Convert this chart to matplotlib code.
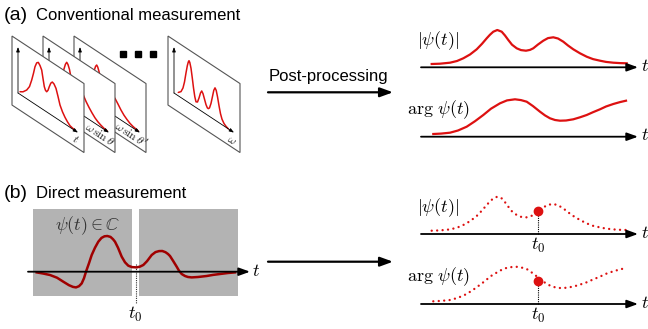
import numpy as np
import matplotlib
matplotlib.use("Agg")
import matplotlib.pyplot as plt
import matplotlib.transforms as mtransforms
from matplotlib.patches import Polygon, Rectangle

plt.rcParams['mathtext.fontset'] = 'cm'
plt.rcParams['font.family'] = ['Liberation Sans', 'DejaVu Sans']

RED = '#dd1111'
DARKRED = '#a00000'

# ---- data ----
# right-hand curves: x position (px) and height above the t axis (px)
psi_x = [431.7, 440, 450, 457, 463.3, 470, 476.7, 482, 486.7, 490, 493.3, 497.3, 501.7, 505,
         508.3, 512, 516.7, 521, 526, 530, 533.3, 538, 543.3, 548, 553.3, 558, 563.3, 568,
         573.3, 580, 586.7, 593, 600, 606, 613.3, 620, 626.7]
psi_abs = [3.3, 3.6, 4.6, 6.3, 9, 12.8, 18, 23.5, 29, 32.6, 35.6, 37.3, 35.6, 31.8,
           27.3, 22.6, 19, 17.2, 16.6, 17.4, 19, 22.8, 26.6, 29.2, 30, 28.8, 25.6, 21.8,
           18, 14, 10.6, 8.2, 6.6, 5.4, 4.6, 4.2, 4]
arg_x = [433.3, 441, 450, 458, 466.7, 475, 483.3, 491, 500, 507, 515, 521, 526.7, 533, 540,
         545, 550, 555, 560, 566, 573.3, 580, 586.7, 593, 600, 606, 613.3, 620, 626]
psi_arg = [2.7, 3.1, 4, 6.2, 10, 15.5, 21.7, 28, 33.4, 36.3, 37.4, 36.6, 35, 30.6, 25,
           21.3, 18.4, 16.7, 16, 16.2, 17.4, 19.4, 21.7, 24.5, 27.4, 30.2, 32.7, 34.6, 36]

# direct measurement: Re psi(t) along the left axis
re_x = [36.7, 43, 50, 57, 63.3, 69, 73, 76, 79, 81.7, 84, 86, 89, 91.7, 95, 98.3, 101.5,
        104.5, 107.3, 110.5, 113, 115, 118, 121.7, 125, 128.3, 132, 136.7, 140, 143.3, 147,
        151.7, 155.5, 159, 162.3, 165.5, 168, 170, 173, 176.7, 179, 181.7, 185, 188, 191.7,
        198, 206.7, 213, 220, 228, 235]
re_psi = [-0.7, -1.8, -3.3, -6, -10, -13.5, -15.2, -15.7, -14.5, -11.7, -6.5, 0, 8.5, 16.7,
          24, 30, 33.8, 35.4, 35.7, 34.8, 32.5, 30, 24, 15, 9.4, 6, 4.6, 4.3, 5.1, 6.7, 10.5,
          16.7, 19.6, 20.6, 20.7, 19.5, 17.7, 15.7, 11, 5, 1, -2.3, -4.3, -5.3, -5.7,
          -5.3, -4.3, -3.2, -2.3, -1.3, -0.7]

t0_x = 538.3
t0_abs = 23
t0_arg = 23.3

# conventional measurement frames: curve along axis (u) and height (v)
f1_u = [2, 5, 8.7, 11.5, 13.7, 15.5, 17, 18.7, 20.3, 22, 23.7, 25, 26.3, 27.5, 28.7, 30,
        31.3, 32.8, 34.3, 36, 38, 40, 42, 44.5, 47, 49.5, 52, 54.5, 57]
f1_v = [2.6, 4.5, 8.7, 14, 22, 30, 37.5, 42.5, 44, 42, 38.6, 31, 23.7, 20.8, 20.2, 22.5,
        27, 31.5, 33.6, 32.8, 29.7, 23, 15.7, 10.5, 6.7, 3.8, 1.6, 0.9, 0.6]
f2_u = [2, 5, 8, 10, 12, 13.5, 15, 16.4, 17.7, 19, 20.5, 22, 23.5, 25, 26.5, 28, 30, 32,
        34.3, 37, 40, 43, 46, 49, 52, 55, 58]
f2_v = [2.5, 4.5, 8, 13, 20, 27, 34, 39.5, 42.4, 41, 37, 30, 24, 21.5, 21, 22.5, 24, 23,
        20.6, 16, 12, 8.5, 5.5, 3.4, 2, 1, 0.5]
f3_u = [2, 5, 8, 10, 12, 13.3, 14.5, 15.6, 16.7, 17.8, 19, 20.5, 22, 23.7, 25.5, 27.5,
        29.5, 32, 35, 38, 41, 44, 47, 50, 53, 58]
f3_v = [2.5, 4.5, 8, 13, 21, 27, 33, 37, 39, 37.5, 34, 28.5, 23, 20.5, 19.5, 20, 20.5,
        19.5, 17.7, 14, 10, 6.8, 4.5, 2.6, 1.5, 0.5]
f4_u = [4.3, 7, 9, 10.5, 12, 13.3, 14.3, 15, 15.8, 17, 18.3, 19.5, 20.8, 22, 23.5, 25,
        26.5, 27.7, 29, 30.5, 32, 33.3, 34.3, 35.5, 37, 38.5, 39.8, 41, 42.2, 43.5, 45,
        46.5, 48, 50, 52, 54.3]
f4_v = [3.4, 6, 11, 18, 28, 36, 40.5, 42.2, 41, 36, 27, 18, 10, 5.7, 6.5, 11.5, 17.5,
        20.3, 18.5, 14, 9.5, 7.2, 7, 8.5, 14, 22, 29, 32.2, 30.5, 25, 17, 10, 5.5, 2.5,
        1, 0]

frame_labels = [r'$t$', r'$\omega\,\sin\theta$', r"$\omega\,\sin\theta'$", r'$\omega$']

# ---- figure ----
fig = plt.figure(figsize=(6.48, 3.29), dpi=100)
ax = fig.add_axes([0, 0, 1, 1])
ax.set_xlim(0, 648)
ax.set_ylim(329, 0)
ax.axis('off')

SL = 0.66


def arrow(x0, y0, x1, y1, lw=1.4, ms=12, tr=None, z=5):
    tr = tr if tr is not None else ax.transData
    ax.annotate('', xy=(x1, y1), xytext=(x0, y0), xycoords=tr, textcoords=tr,
                arrowprops=dict(arrowstyle='-|>,head_length=0.55,head_width=0.2',
                                lw=lw, color='black', mutation_scale=ms,
                                shrinkA=0, shrinkB=0),
                zorder=z)


def frame(ox, oy, u, v, label, z, lab_u):
    tr = mtransforms.Affine2D(np.array([[1, 0, ox], [SL, -1, oy], [0, 0, 1]])) + ax.transData
    ax.add_patch(Polygon([(-6, -16), (66, -16), (66, 53), (-6, 53)], closed=True,
                         transform=tr, fc='white', ec='#555555', lw=0.8, zorder=z))
    arrow(0, 0, 0, 46, lw=0.6, ms=5, tr=tr, z=z + 0.2)
    arrow(0, 0, 60, 0, lw=0.6, ms=5, tr=tr, z=z + 0.2)
    ax.plot(u, v, color=RED, lw=1.1, transform=tr, zorder=z + 0.1,
            solid_capstyle='round', solid_joinstyle='round')
    ang = -np.degrees(np.arctan(SL))
    x, y = tr.transform((lab_u, -9))
    xd, yd = ax.transData.inverted().transform((x, y))
    ax.text(xd, yd, label, fontsize=8.5, rotation=ang, rotation_mode='anchor',
            ha='center', va='center', zorder=z + 0.3, color='#222222')


frame(80, 93, f3_u, f3_v, frame_labels[2], 1, 50)
frame(49, 93, f2_u, f2_v, frame_labels[1], 2, 50)
frame(18, 93, f1_u, f1_v, frame_labels[0], 3, 57)
frame(174, 93, f4_u, f4_v, frame_labels[3], 4, 58)

ax.plot([123.3, 138.3, 153.3], [54.3, 54.3, 54.3], 's', color='black', ms=3.8, zorder=5)

# titles
ax.text(4, 19.5, '(a)', fontsize=14, va='baseline')
ax.text(36, 19.5, 'Conventional measurement', fontsize=12, va='baseline')
ax.text(4, 198.3, '(b)', fontsize=14, va='baseline')
ax.text(36, 198.3, 'Direct measurement', fontsize=12, va='baseline')

# post-processing arrow
ax.text(328.5, 81, 'Post-processing', fontsize=12, ha='center', va='baseline')
arrow(268, 92.3, 393, 92.3, lw=1.6, ms=14)
arrow(268, 261.7, 393, 261.7, lw=1.6, ms=14)

# right panels
base_abs_a, base_arg_a = 67.3, 136.7
base_abs_b, base_arg_b = 234, 304
for b in [base_abs_a, base_arg_a, base_abs_b, base_arg_b]:
    arrow(421, b, 638, b, lw=1.3, ms=12)
    ax.text(641, b - 1, r'$t$', fontsize=13, ha='left', va='center')

ax.plot(psi_x, base_abs_a - np.array(psi_abs), color=RED, lw=1.6, solid_joinstyle='round')
ax.plot(arg_x, base_arg_a - np.array(psi_arg), color=RED, lw=1.6, solid_joinstyle='round')
ax.text(438, 41, r'$|\psi(t)|$', fontsize=13, ha='center', va='center')
ax.text(438, 110, r'$\arg\,\psi(t)$', fontsize=13, ha='center', va='center')

dots = (0, (0.01, 2.3))
ax.plot(psi_x, base_abs_b - np.array(psi_abs), color=RED, lw=1.7, ls=dots,
        dash_capstyle='round')
ax.plot(arg_x, base_arg_b - np.array(psi_arg), color=RED, lw=1.7, ls=dots,
        dash_capstyle='round')
ax.text(438, 208, r'$|\psi(t)|$', fontsize=13, ha='center', va='center')
ax.text(438, 277, r'$\arg\,\psi(t)$', fontsize=13, ha='center', va='center')
for b, h in [(base_abs_b, t0_abs), (base_arg_b, t0_arg)]:
    ax.plot([t0_x, t0_x], [b, b - h], color='black', lw=0.8, ls=(0, (1, 1)))
    ax.plot(t0_x, b - h, 'o', color=RED, ms=6, zorder=6)
    ax.text(t0_x, b + 2, r'$t_0$', fontsize=13, ha='center', va='top')

# left panel (b)
ax.add_patch(Rectangle((33.3, 209.3), 99, 86.7, fc='#b3b3b3', ec='none', zorder=1))
ax.add_patch(Rectangle((139.3, 209.3), 98.4, 86.7, fc='#b3b3b3', ec='none', zorder=1))
ax.text(88, 226, r'$\psi(t) \in \mathbb{C}$', fontsize=13, ha='center', va='center',
        color='#333333', zorder=3)
ax.plot(re_x, 271.7 - np.array(re_psi), color=DARKRED, lw=1.8, zorder=4,
        solid_joinstyle='round')
arrow(28, 271.7, 250, 271.7, lw=1.3, ms=12)
ax.text(252, 271, r'$t$', fontsize=13, ha='left', va='center')
ax.plot([136, 136], [264, 303], color='#333333', lw=0.8, ls=(0, (1, 1)), zorder=3)
ax.text(135, 305, r'$t_0$', fontsize=13, ha='center', va='top')

fig.savefig('out.png', dpi=100)
